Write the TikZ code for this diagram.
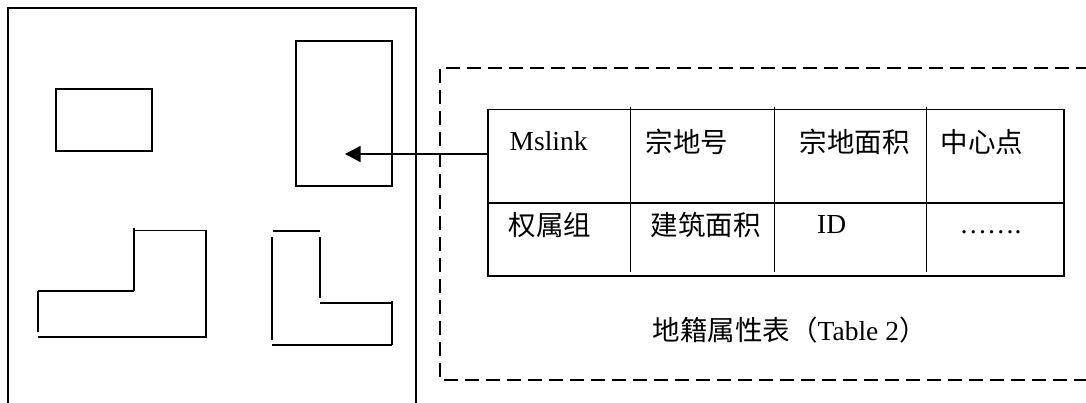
\documentclass[tikz,border=0pt]{standalone}
\usepackage{fontspec}
\setmainfont{Liberation Serif}
\newfontfamily\cjk{Noto Sans CJK SC}
\usetikzlibrary{arrows.meta}
\begin{document}
\begin{tikzpicture}[x=1pt,y=-1pt,line width=1.4pt,
  shapebox/.style={draw,inner sep=0pt,outer sep=0pt},
  cell/.style={inner sep=0pt,anchor=base west,font=\fontsize{27.5}{30}\selectfont},
  dashframe/.style={dash pattern=on 14pt off 7pt,line width=1.5pt},
  link/.style={-{Triangle[length=15.5pt,width=16pt]}}]
\useasboundingbox (0,0) rectangle (1086,403);
% map frame (open at the bottom)
\draw (8,403) -- (8,8) -- (416,8) -- (416,403);
% parcels
\node[shapebox,minimum width=96pt,minimum height=62pt] (rect1) at (104,120) {};
\node[shapebox,minimum width=96pt,minimum height=145pt] (parcel) at (344,113.5) {};
\coordinate (tip) at (345,154);
% L-shaped parcel 1
\draw (134,230.5) -- (206,230.5);
\draw (134,228) -- (134,291);
\draw (38,291) -- (134,291);
\draw (38,291) -- (38,332);
\draw (38,337) -- (206,337);
\draw (206,230) -- (206,338);
% L-shaped parcel 2
\draw (273,231) -- (320,231);
\draw (272,237) -- (272,340);
\draw (320,237) -- (320,298);
\draw (320,303) -- (392,303);
\draw (392,301) -- (392,345);
\draw (272,345) -- (392,345);
% attribute table frame (dashed, right side off the page)
\draw[dashframe] (1090,68) -- (440,68) -- (440,380) -- (1090,380);
% table
\node[shapebox,minimum width=576pt,minimum height=166.5pt] (table) at (776,192.75) {};
\draw (table.west |- 0,203) -- (table.east |- 0,203);
\draw (630.3,106.7) -- (630.3,272);
\draw (774.7,106.7) -- (774.7,272);
\draw (926.7,106.7) -- (926.7,272);
% cells
\node[cell] (c11) at (509,151) {Mslink};
\node[cell] (c12) at (645,153) {\cjk 宗地号};
\node[cell] (c13) at (799,153) {\cjk 宗地面积};
\node[cell] (c14) at (940,153) {\cjk 中心点};
\node[cell] (c21) at (508,235.5) {\cjk 权属组};
\node[cell] (c22) at (650,235.5) {\cjk 建筑面积};
\node[cell] (c23) at (816.5,234) {ID};
\node[cell] (c24) at (959,234) {…….};
\node[cell] (caption) at (652,340) {{\cjk 地籍属性表（}Table 2{\cjk ）}};
% link from table record to parcel
\draw[link] (table.north west |- tip) -- (tip);
\end{tikzpicture}
\end{document}
